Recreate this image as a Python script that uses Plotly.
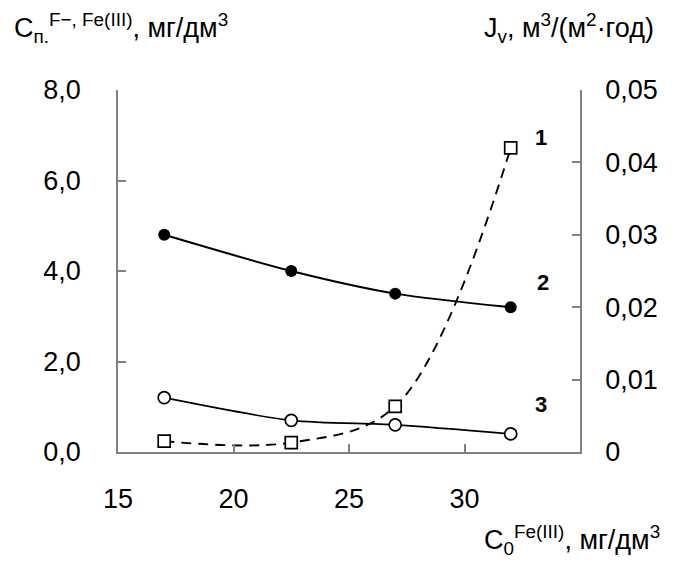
import plotly.graph_objects as go

# Initial Fe(III) concentration, mg/dm3
c0 = [17, 22.5, 27, 32]
# Curve 1: permeate flux J_v, m3/(m2*year) (right axis)
flux = [0.0015, 0.0013, 0.0063, 0.042]
# Curve 2: fluoride concentration in permeate, mg/dm3 (left axis)
c_fluoride = [4.8, 4.0, 3.5, 3.2]
# Curve 3: Fe(III) concentration in permeate, mg/dm3 (left axis)
c_iron = [1.2, 0.7, 0.6, 0.4]

x_ticks = [15, 20, 25, 30]
y1_ticks = [0, 2, 4, 6, 8]
y1_text = ["0,0", "2,0", "4,0", "6,0", "8,0"]
y2_ticks = [0, 0.01, 0.02, 0.03, 0.04, 0.05]
y2_text = ["0", "0,01", "0,02", "0,03", "0,04", "0,05"]

FONT = "Liberation Sans, Arial, sans-serif"
AXIS_GRAY = "#808080"

W, H = 677, 563
ML, MR, MT, MB = 118, 97, 90, 111
plot_w = W - ML - MR
plot_h = H - MT - MB

fig = go.Figure()

fig.add_trace(go.Scatter(
    x=c0, y=c_fluoride, mode="lines+markers",
    line=dict(color="black", width=2, shape="spline", smoothing=0.8),
    marker=dict(symbol="circle", size=12, color="black"),
    yaxis="y", showlegend=False, cliponaxis=False,
))
fig.add_trace(go.Scatter(
    x=c0, y=c_iron, mode="lines+markers",
    line=dict(color="black", width=1.7, shape="spline", smoothing=0.8),
    marker=dict(symbol="circle", size=12, color="white",
                line=dict(color="black", width=1.7)),
    yaxis="y", showlegend=False, cliponaxis=False,
))
fig.add_trace(go.Scatter(
    x=c0, y=flux, mode="lines+markers",
    line=dict(color="black", width=1.9, dash="10px,7px", shape="spline", smoothing=1),
    marker=dict(symbol="square", size=12, color="white",
                line=dict(color="black", width=1.7)),
    yaxis="y2", showlegend=False, cliponaxis=False,
))

tickfont = dict(family=FONT, size=27, color="black")
axis_common = dict(
    showline=True, linecolor=AXIS_GRAY, linewidth=1.5,
    ticks="inside", ticklen=8, tickcolor=AXIS_GRAY, tickwidth=1.5,
    showgrid=False, zeroline=False, tickfont=tickfont,
)

fig.update_layout(
    width=W, height=H,
    margin=dict(l=ML, r=MR, t=MT, b=MB),
    paper_bgcolor="white", plot_bgcolor="white",
    font=dict(family=FONT, color="black"),
    xaxis=dict(range=[15, 35], tickvals=x_ticks, ticktext=[str(v) for v in x_ticks],
               ticklabelstandoff=22, **axis_common),
    yaxis=dict(range=[0, 8], tickvals=y1_ticks, ticktext=y1_text,
               ticklabelstandoff=30, **axis_common),
    yaxis2=dict(range=[0, 0.05], tickvals=y2_ticks, ticktext=y2_text,
                overlaying="y", side="right", ticklabelstandoff=18, **axis_common),
)

# Axis titles, positioned in pixels and converted to paper coordinates
title_font = dict(family=FONT, size=27, color="black")
titles = [
    ("C<sub>п.</sub><sup>F−, Fe(III)</sup>, мг/дм<sup>3</sup>", 12, 28, "left"),
    ("J<sub>v</sub>, м<sup>3</sup>/(м<sup>2</sup>·год)", 656, 28, "right"),
    ("C<sub>0</sub><sup>Fe(III)</sup>, мг/дм<sup>3</sup>", 662, 540, "right"),
]
for text, px, py, anchor in titles:
    fig.add_annotation(
        xref="paper", yref="paper", showarrow=False, font=title_font, text=text,
        x=(px - ML) / plot_w, y=1 - (py - MT) / plot_h,
        xanchor=anchor, yanchor="middle",
    )

# Curve numbers placed next to the last points
label_font = dict(family=FONT, size=22, color="black")
fig.add_annotation(x=33.3, y=0.0435, xref="x", yref="y2", text="<b>1</b>",
                   showarrow=False, font=label_font)
fig.add_annotation(x=33.4, y=3.74, xref="x", yref="y", text="<b>2</b>",
                   showarrow=False, font=label_font)
fig.add_annotation(x=33.3, y=1.04, xref="x", yref="y", text="<b>3</b>",
                   showarrow=False, font=label_font)

fig.write_html("out.html")
